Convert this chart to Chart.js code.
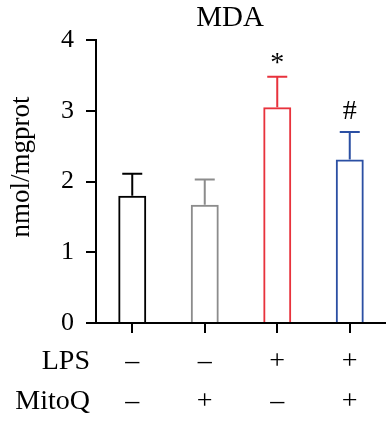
<!DOCTYPE html>
<html>
<head>
<meta charset="utf-8">
<script src="https://cdn.jsdelivr.net/npm/chart.js@4/dist/chart.umd.min.js"></script>
<style>
  html, body { margin: 0; padding: 0; background: #fff; }
  #wrap { position: relative; width: 386px; height: 424px; }
</style>
</head>
<body>
<div id="wrap"><canvas id="mda"></canvas></div>
<script>
// groups: LPS / MitoQ treatment
const groups = ['Control', 'MitoQ', 'LPS', 'LPS+MitoQ'];
const lpsRow = ['\u2013', '\u2013', '+', '+'];
const mitoRow = ['\u2013', '+', '\u2013', '+'];
const means = [1.80, 1.67, 3.05, 2.31];
const errors = [0.31, 0.36, 0.43, 0.39];
const marks = ['', '', '*', '#'];
const barColors = ['#000000', '#8c8c8c', '#e8323c', '#2b4fa3'];
const yTicks = [0, 1, 2, 3, 4];

const SERIF = '"Liberation Serif", "Times New Roman", serif';

// error bars, significance marks and the extra text
const extras = {
    id: 'extras',
    afterDatasetsDraw(chart) {
        const ctx = chart.ctx;
        const x = chart.scales.x;
        const y = chart.scales.y;
        ctx.save();
        means.forEach((m, i) => {
            const cx = x.getPixelForValue(i);
            const top = y.getPixelForValue(m + errors[i]);
            const base = y.getPixelForValue(m);
            ctx.strokeStyle = barColors[i];
            ctx.lineWidth = 2;
            ctx.beginPath();
            ctx.moveTo(cx, base);
            ctx.lineTo(cx, top);
            ctx.moveTo(cx - 10, top);
            ctx.lineTo(cx + 10, top);
            ctx.stroke();

            if (marks[i]) {
                ctx.fillStyle = '#000';
                ctx.font = '28px ' + SERIF;
                ctx.textAlign = 'center';
                ctx.textBaseline = 'alphabetic';
                const mt = ctx.measureText(marks[i]);
                ctx.fillText(marks[i], cx, top - 13 - mt.actualBoundingBoxDescent);
            }
        });

        // title
        ctx.fillStyle = '#000';
        ctx.textAlign = 'center';
        ctx.textBaseline = 'middle';
        ctx.font = '29px ' + SERIF;
        ctx.fillText('MDA', 230, 18);

        // y axis title
        ctx.save();
        ctx.translate(22, 167);
        ctx.rotate(-Math.PI / 2);
        ctx.font = '27px ' + SERIF;
        ctx.fillText('nmol/mgprot', 0, 0);
        ctx.restore();

        // row labels
        ctx.textAlign = 'right';
        ctx.font = '28px ' + SERIF;
        ctx.fillText('LPS', 90, 362);
        ctx.fillText('MitoQ', 90, 402);
        ctx.restore();
    }
};

new Chart(document.getElementById('mda'), {
    type: 'bar',
    data: {
        labels: groups.map((g, i) => [lpsRow[i], mitoRow[i]]),
        datasets: [{
            data: means,
            backgroundColor: 'rgba(255,255,255,0)',
            borderColor: barColors,
            borderWidth: 2,
            borderSkipped: 'start',
            barPercentage: 0.386,
            categoryPercentage: 1
        }]
    },
    options: {
        responsive: true,
        maintainAspectRatio: false,
        animation: false,
        layout: { padding: { top: 40, right: 0, left: 0, bottom: 0 } },
        plugins: {
            legend: { display: false },
            tooltip: { enabled: false }
        },
        scales: {
            x: {
                afterFit: (s) => { s.height = 101; },
                grid: {
                    drawOnChartArea: false,
                    color: '#000',
                    lineWidth: 2,
                    tickLength: 10,
                    offset: false
                },
                border: { color: '#000', width: 2 },
                ticks: {
                    color: '#000',
                    padding: 9,
                    maxRotation: 0,
                    font: { family: SERIF, size: 28, lineHeight: 1.43 }
                }
            },
            y: {
                min: 0,
                max: 4,
                afterFit: (s) => { s.width = 96; },
                afterBuildTicks: (s) => { s.ticks = yTicks.map(v => ({ value: v })); },
                grid: {
                    drawOnChartArea: false,
                    color: '#000',
                    lineWidth: 2,
                    tickLength: 10
                },
                border: { color: '#000', width: 2 },
                ticks: {
                    color: '#000',
                    padding: 12,
                    font: { family: SERIF, size: 26 }
                }
            }
        }
    },
    plugins: [extras]
});
</script>
</body>
</html>
